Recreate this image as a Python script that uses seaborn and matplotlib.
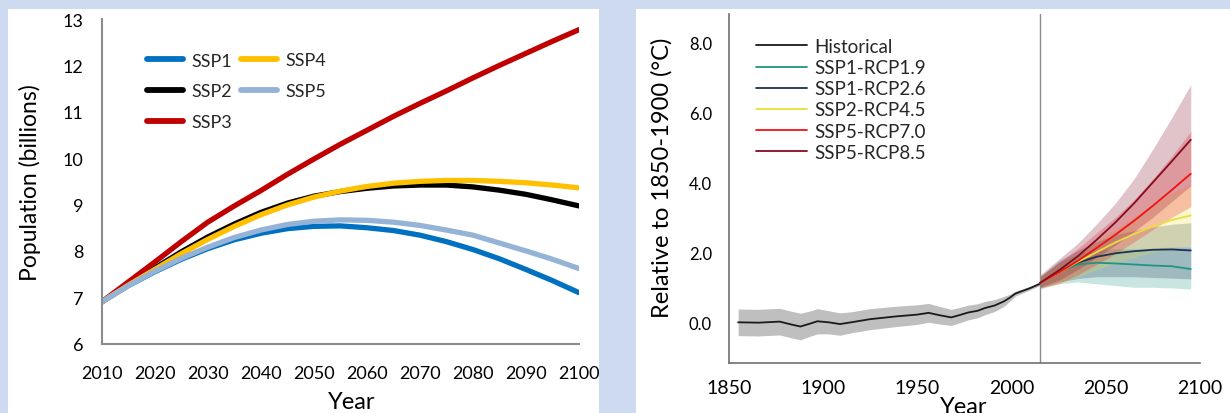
import numpy as np
import pandas as pd
import matplotlib
matplotlib.use("Agg")
import matplotlib.pyplot as plt
from matplotlib.patches import Rectangle
from matplotlib.ticker import MultipleLocator, FormatStrFormatter
import seaborn as sns

sns.set_theme(style="white")
plt.rcParams['font.family'] = ['Lato', 'DejaVu Sans']

# ---------------- Left panel data: population (billions) ----------------
pop_years = [2010, 2015, 2020, 2025, 2030, 2035, 2040, 2045, 2050, 2055,
             2060, 2065, 2070, 2075, 2080, 2085, 2090, 2095, 2100]
ssp1 = [6.9, 7.25, 7.55, 7.82, 8.05, 8.24, 8.38, 8.48, 8.53, 8.54,
        8.5, 8.44, 8.34, 8.2, 8.03, 7.83, 7.6, 7.36, 7.1]
ssp2 = [6.9, 7.28, 7.63, 7.98, 8.3, 8.58, 8.83, 9.03, 9.18, 9.28,
        9.35, 9.4, 9.42, 9.42, 9.38, 9.31, 9.22, 9.1, 8.97]
ssp3 = [6.9, 7.33, 7.76, 8.2, 8.62, 8.97, 9.3, 9.65, 9.98, 10.3,
        10.6, 10.9, 11.18, 11.45, 11.73, 12.0, 12.26, 12.52, 12.77]
ssp4 = [6.9, 7.26, 7.6, 7.94, 8.25, 8.53, 8.78, 8.99, 9.16, 9.29,
        9.39, 9.46, 9.5, 9.52, 9.52, 9.5, 9.47, 9.42, 9.36]
ssp5 = [6.9, 7.25, 7.56, 7.84, 8.08, 8.29, 8.45, 8.57, 8.64, 8.67,
        8.66, 8.62, 8.55, 8.45, 8.34, 8.17, 8.0, 7.82, 7.62]
pop_names = ["SSP1", "SSP2", "SSP3", "SSP4", "SSP5"]
pop_colors = {"SSP1": "#0070C0", "SSP2": "#000000", "SSP3": "#C00000",
              "SSP4": "#FFC000", "SSP5": "#95B3D7"}

# ---------------- Right panel data: temperature (°C rel. 1850-1900) ----------------
hist_years = [1855, 1866, 1877, 1883, 1888, 1893, 1897, 1903, 1909, 1915, 1925,
              1939, 1950, 1956, 1962, 1968, 1972, 1977, 1982, 1986, 1991, 1996,
              1999, 2002, 2006, 2010, 2015]
hist_mean = [0.0, -0.01, 0.02, -0.06, -0.12, -0.04, 0.03, 0.0, -0.05, 0.0, 0.09,
             0.17, 0.22, 0.27, 0.2, 0.14, 0.2, 0.28, 0.33, 0.41, 0.48, 0.6,
             0.7, 0.82, 0.9, 0.98, 1.1]
hist_half = [0.38, 0.38, 0.38, 0.38, 0.38, 0.36, 0.36, 0.33, 0.32, 0.3, 0.3,
             0.29, 0.28, 0.27, 0.25, 0.23, 0.22, 0.21, 0.2, 0.19, 0.17, 0.14,
             0.1, 0.07, 0.06, 0.05, 0.05]

proj_years = [2015, 2025, 2035, 2045, 2055, 2065, 2075, 2085, 2095]
rcp19 = [1.12, 1.45, 1.65, 1.7, 1.68, 1.65, 1.62, 1.6, 1.52]
rcp19_lo = [0.95, 1.1, 1.15, 1.1, 1.05, 1.0, 1.0, 0.98, 0.95]
rcp19_hi = [1.3, 1.7, 1.95, 2.05, 2.1, 2.1, 2.12, 2.15, 2.15]
rcp26 = [1.12, 1.45, 1.7, 1.87, 1.97, 2.03, 2.07, 2.08, 2.05]
rcp26_lo = [0.98, 1.15, 1.25, 1.3, 1.3, 1.3, 1.28, 1.26, 1.24]
rcp26_hi = [1.3, 1.75, 2.05, 2.3, 2.5, 2.62, 2.72, 2.8, 2.84]
rcp45 = [1.12, 1.42, 1.72, 2.0, 2.28, 2.52, 2.74, 2.92, 3.05]
rcp45_lo = [0.98, 1.1, 1.3, 1.5, 1.7, 1.85, 2.0, 2.12, 2.2]
rcp45_hi = [1.3, 1.65, 1.95, 2.3, 2.65, 3.0, 3.35, 3.7, 3.95]
rcp70 = [1.12, 1.42, 1.75, 2.12, 2.5, 2.9, 3.33, 3.78, 4.24]
rcp70_lo = [0.98, 1.1, 1.35, 1.65, 1.95, 2.3, 2.65, 3.0, 3.3]
rcp70_hi = [1.3, 1.7, 2.1, 2.55, 3.0, 3.5, 4.1, 4.75, 5.45]
rcp85 = [1.12, 1.48, 1.88, 2.35, 2.85, 3.4, 4.0, 4.6, 5.21]
rcp85_lo = [1.0, 1.2, 1.5, 1.85, 2.2, 2.6, 3.0, 3.45, 3.9]
rcp85_hi = [1.35, 1.8, 2.25, 2.8, 3.4, 4.1, 4.95, 5.85, 6.78]
scen_names = ["SSP1-RCP1.9", "SSP1-RCP2.6", "SSP2-RCP4.5", "SSP5-RCP7.0", "SSP5-RCP8.5"]
scen_colors = {"SSP1-RCP1.9": "#1E9684", "SSP1-RCP2.6": "#1D3354",
               "SSP2-RCP4.5": "#EADD3D", "SSP5-RCP7.0": "#F21111",
               "SSP5-RCP8.5": "#840B22"}
hist_year_line = 2015

W, H = 1230, 414
fig = plt.figure(figsize=(W / 100, H / 100), dpi=100)
fig.patch.set_facecolor("#CDDAF0")
# white panel backgrounds
fig.patches.append(Rectangle((8 / W, 0), 591 / W, 404 / H, transform=fig.transFigure,
                             facecolor="white", edgecolor="none", zorder=-10))
fig.patches.append(Rectangle((636 / W, 0), 594 / W, 404 / H, transform=fig.transFigure,
                             facecolor="white", edgecolor="none", zorder=-10))

# ---------------- Left axes ----------------
axL = fig.add_axes([101.7 / W, 1 - 344.7 / H, 477.3 / W, 324.7 / H])
axL.set_facecolor("none")
pop_df = pd.DataFrame({"Year": pop_years * 5,
                       "Pop": ssp1 + ssp2 + ssp3 + ssp4 + ssp5,
                       "Scenario": sum([[n] * len(pop_years) for n in pop_names], [])})
sns.lineplot(data=pop_df, x="Year", y="Pop", hue="Scenario", palette=pop_colors,
             hue_order=pop_names, linewidth=3.8, ax=axL, legend=False,
             solid_capstyle="round")
axL.set_xlim(2010, 2100)
axL.set_ylim(6, 13)
axL.set_xticks(range(2010, 2101, 10))
axL.set_yticks(range(6, 14))
for s in ["top", "right"]:
    axL.spines[s].set_visible(False)
for s in ["left", "bottom"]:
    axL.spines[s].set_color("#8C8C8C")
    axL.spines[s].set_linewidth(1.5)
axL.tick_params(axis="both", direction="out", length=5, width=1.2, color="#8C8C8C",
                labelsize=13, labelcolor="black")
axL.tick_params(axis="y", pad=8)
axL.tick_params(axis="x", pad=10)
axL.set_xlabel("Year", fontsize=17, color="black")
axL.set_ylabel("Population (billions)", fontsize=16.5, color="black")
axL.xaxis.set_label_coords(0.524, -0.145)
axL.yaxis.set_label_coords(-0.128, 0.5)


def pop_handle(n):
    return plt.Line2D([], [], color=pop_colors[n], lw=4.2, solid_capstyle="round")


leg_kw = dict(loc="upper left", frameon=False, fontsize=13, handlelength=2.0,
              handletextpad=0.45, labelspacing=0.82, borderpad=0, borderaxespad=0,
              bbox_transform=fig.transFigure)
leg1 = axL.legend([pop_handle(n) for n in pop_names[:3]], pop_names[:3],
                  bbox_to_anchor=(147 / W, 1 - 53.5 / H), **leg_kw)
axL.add_artist(leg1)
axL.legend([pop_handle(n) for n in pop_names[3:]], pop_names[3:],
           bbox_to_anchor=(241 / W, 1 - 53.5 / H), **leg_kw)

# ---------------- Right axes ----------------
axR = fig.add_axes([728.7 / W, 1 - 363.6 / H, 471.5 / W, 348.6 / H])
axR.set_facecolor("none")
axR.fill_between(hist_years, np.array(hist_mean) - np.array(hist_half),
                 np.array(hist_mean) + np.array(hist_half), color="#BFBFBF", lw=0, zorder=1)
bands = {"SSP1-RCP1.9": (rcp19_lo, rcp19_hi), "SSP1-RCP2.6": (rcp26_lo, rcp26_hi),
         "SSP2-RCP4.5": (rcp45_lo, rcp45_hi), "SSP5-RCP7.0": (rcp70_lo, rcp70_hi),
         "SSP5-RCP8.5": (rcp85_lo, rcp85_hi)}
for n in scen_names:
    lo, hi = bands[n]
    axR.fill_between(proj_years, lo, hi, color=scen_colors[n], alpha=0.24, lw=0, zorder=1)
sns.lineplot(x=hist_years, y=hist_mean, color="#1A1A1A", linewidth=1.3, ax=axR,
             label="Historical", zorder=3)
means = {"SSP1-RCP1.9": rcp19, "SSP1-RCP2.6": rcp26, "SSP2-RCP4.5": rcp45,
         "SSP5-RCP7.0": rcp70, "SSP5-RCP8.5": rcp85}
for n in scen_names:
    sns.lineplot(x=proj_years, y=means[n], color=scen_colors[n], linewidth=1.3, ax=axR,
                 label=n, zorder=3)
axR.axvline(hist_year_line, color="#8C8C8C", lw=1.0, zorder=2)
axR.set_xlim(1850, 2100)
axR.set_ylim(-1.15, 8.8)
axR.xaxis.set_major_locator(MultipleLocator(50))
axR.xaxis.set_minor_locator(MultipleLocator(10))
axR.yaxis.set_major_locator(MultipleLocator(2))
axR.yaxis.set_minor_locator(MultipleLocator(0.5))
axR.yaxis.set_major_formatter(FormatStrFormatter("%.1f"))
for s in ["top", "right"]:
    axR.spines[s].set_visible(False)
for s in ["left", "bottom"]:
    axR.spines[s].set_color("#707070")
    axR.spines[s].set_linewidth(1.2)
axR.tick_params(axis="both", which="major", direction="out", length=7, width=1.0,
                color="#707070", labelcolor="black")
axR.tick_params(axis="both", which="minor", direction="out", length=3.5, width=0.9,
                color="#909090")
axR.tick_params(axis="y", which="major", labelsize=12, pad=5)
axR.tick_params(axis="x", which="major", labelsize=14, pad=5)
axR.set_xlabel("Year", fontsize=17, color="black")
axR.set_ylabel("Relative to 1850-1900 (°C)", fontsize=17, color="black")
axR.xaxis.set_label_coords(0.499, -0.095)
axR.yaxis.set_label_coords(-0.118, 0.532)
axR.legend(loc="upper left", frameon=False, fontsize=13.5, handlelength=2.7,
           handletextpad=0.4, labelspacing=0.22, borderpad=0, borderaxespad=0,
           bbox_to_anchor=(756 / W, 1 - 39 / H), bbox_transform=fig.transFigure)

fig.savefig("out.png", dpi=100, facecolor=fig.get_facecolor())
